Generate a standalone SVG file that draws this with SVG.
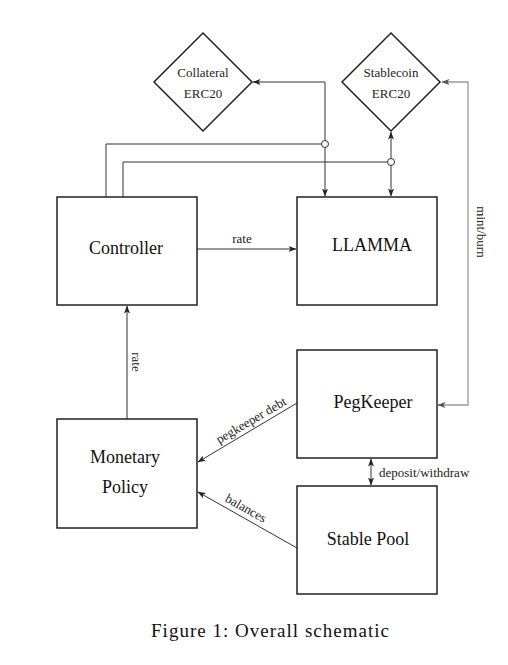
<svg xmlns="http://www.w3.org/2000/svg" width="508" height="665" viewBox="0 0 508 665">
<defs>
<marker id="ah" viewBox="0 0 8 6" refX="7.5" refY="3" markerWidth="8" markerHeight="6" markerUnits="userSpaceOnUse" orient="auto-start-reverse">
<path d="M0,0 L8,3 L0,6 L2,3 z" fill="#222"/>
</marker>
<marker id="ahg" viewBox="0 0 8 6" refX="7.5" refY="3" markerWidth="8" markerHeight="6" markerUnits="userSpaceOnUse" orient="auto-start-reverse">
<path d="M0,0 L8,3 L0,6 L2,3 z" fill="#555"/>
</marker>
<style>
.box{fill:#fff;stroke:#222;stroke-width:1.5}
.big{font-family:"Liberation Serif",serif;font-size:18px;fill:#111;text-anchor:middle;dominant-baseline:central}
.sm{font-family:"Liberation Serif",serif;font-size:13px;fill:#222;text-anchor:middle;dominant-baseline:central}
.ln{fill:none;stroke:#333;stroke-width:1}
.gr{fill:none;stroke:#999;stroke-width:1.3}
.hop{fill:#fff;stroke:#333;stroke-width:1}
</style>
</defs>
<rect width="508" height="665" fill="#fff"/>

<g id="connectors">
<polyline class="ln" points="325,196 325,82 253,82" marker-start="url(#ah)" marker-end="url(#ah)"/>
<line class="ln" x1="391" y1="132" x2="391" y2="196" stroke-width="1.5" marker-start="url(#ah)" marker-end="url(#ah)"/>
<polyline class="ln" points="106,197 106,144 321.5,144"/>
<circle class="hop" cx="325" cy="144" r="3.5"/>
<polyline class="ln" points="123,197 123,162 387.5,162" stroke="#555"/>
<circle class="hop" cx="391" cy="162" r="3.5"/>
<polyline class="gr" points="442,82 468,82 468,405 438,405" marker-start="url(#ahg)" marker-end="url(#ahg)"/>
<text class="sm" transform="translate(481,232) rotate(90)">mint/burn</text>
<line class="ln" x1="197" y1="249" x2="296" y2="249" marker-end="url(#ah)"/>
<text class="sm" x="242" y="238">rate</text>
<line class="ln" x1="127" y1="419" x2="127" y2="306" marker-end="url(#ah)"/>
<text class="sm" transform="translate(136,362) rotate(90)">rate</text>
<line class="ln" x1="297" y1="403" x2="198" y2="462" marker-end="url(#ah)"/>
<text class="sm" transform="translate(251,420) rotate(-30.5)">pegkeeper debt</text>
<line class="ln" x1="297" y1="548" x2="198" y2="492" marker-end="url(#ah)"/>
<text class="sm" transform="translate(246,508) rotate(29.2)">balances</text>
<line class="ln" x1="371" y1="459" x2="371" y2="485" marker-start="url(#ah)" marker-end="url(#ah)"/>
<text class="sm" x="379" y="472" text-anchor="start" style="text-anchor:start">deposit/withdraw</text>
</g>

<g id="collateral">
<polygon class="box" points="203,33 252,82 203,131 154,82"/>
<text class="sm" x="203" y="72">Collateral</text>
<text class="sm" x="203" y="93">ERC20</text>
</g>
<g id="stablecoin">
<polygon class="box" points="391,33 440,82 391,131 342,82"/>
<text class="sm" x="391" y="72">Stablecoin</text>
<text class="sm" x="391" y="93">ERC20</text>
</g>
<g id="controller">
<rect class="box" x="57" y="197" width="140" height="108"/>
<text class="big" x="126" y="248">Controller</text>
</g>
<g id="llamma">
<rect class="box" x="297" y="197" width="140" height="108"/>
<text class="big" x="372" y="245">LLAMMA</text>
</g>
<g id="pegkeeper">
<rect class="box" x="297" y="350" width="140" height="108"/>
<text class="big" x="373" y="402">PegKeeper</text>
</g>
<g id="stablepool">
<rect class="box" x="297" y="486" width="140" height="108"/>
<text class="big" x="368" y="539">Stable Pool</text>
</g>
<g id="monetary">
<rect class="box" x="57" y="419" width="140" height="109"/>
<text class="big" x="125" y="457">Monetary</text>
<text class="big" x="125" y="487">Policy</text>
</g>
<text x="151" y="637" font-family="Liberation Serif, serif" font-size="19" fill="#111" textLength="238" lengthAdjust="spacing">Figure 1: Overall schematic</text>
</svg>
